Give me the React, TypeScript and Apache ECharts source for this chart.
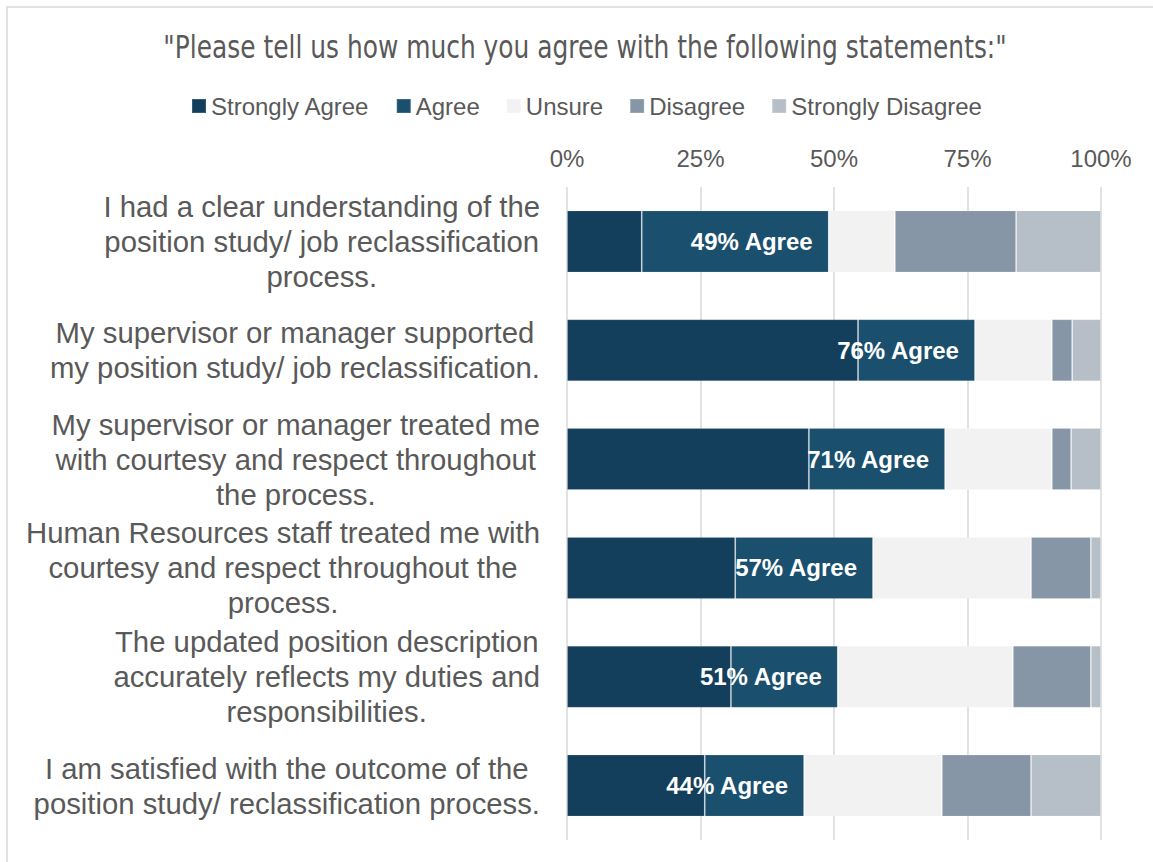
import React, { useEffect, useRef } from "react";
import * as echarts from "echarts";

const categories = [
  "I had a clear understanding of the\nposition study/ job reclassification\nprocess.",
  "My supervisor or manager supported\nmy position study/ job reclassification.",
  "My supervisor or manager treated me\nwith courtesy and respect throughout\nthe process.",
  "Human Resources staff treated me with\ncourtesy and respect throughout the\nprocess.",
  "The updated position description\naccurately reflects my duties and\nresponsibilities.",
  "I am satisfied with the outcome of the\nposition study/ reclassification process.",
];

const stronglyAgree = [14, 54.5, 45.3, 31.5, 30.7, 25.8];
const agree = [35, 21.9, 25.5, 25.8, 20, 18.6];
const unsure = [12.4, 14.4, 20, 29.6, 32.8, 25.8];
const disagree = [22.7, 3.8, 3.6, 11.2, 14.6, 16.7];
const stronglyDisagree = [15.9, 5.4, 5.6, 1.9, 1.9, 13.1];
const agreeTotals = [49, 76, 71, 57, 51, 44];

const xTicks = [0, 25, 50, 75, 100];

const titleText = "\"Please tell us how much you agree with the following statements:\"";
const seriesNames = ["Strongly Agree", "Agree", "Unsure", "Disagree", "Strongly Disagree"];
const seriesColors = ["#143F5C", "#1A4F6D", "#F2F2F2", "#8696A6", "#B6BEC7"];

const FONT = "Liberation Sans, Arial, Helvetica, sans-serif";
const TEXT_COLOR = "#595959";

export default function App() {
  const ref = useRef<HTMLDivElement>(null);

  useEffect(() => {
    if (!ref.current) return;
    const chart = echarts.init(ref.current, null, { renderer: "svg" });
    const dataSets = [stronglyAgree, agree, unsure, disagree, stronglyDisagree];
    const series = dataSets.map((d, i) => ({
      name: seriesNames[i],
      type: "bar",
      stack: "total",
      barWidth: 62,
      data: d,
      itemStyle: {
        color: seriesColors[i],
        borderColor: "rgba(255,255,255,0.15)",
        borderWidth: 1,
      },
      label:
        i === 1
          ? {
              show: true,
              position: "insideRight",
              distance: 16,
              color: "#FFFFFF",
              fontFamily: FONT,
              fontWeight: "bold",
              fontSize: 24,
              formatter: (p: any) => `${agreeTotals[p.dataIndex]}% Agree`,
            }
          : { show: false },
      emphasis: { disabled: true },
    }));

    chart.setOption({
      animation: false,
      backgroundColor: "#FFFFFF",
      legend: {
        left: 191,
        top: 94,
        padding: 0,
        itemWidth: 14,
        itemHeight: 14,
        itemGap: 26,
        icon: "rect",
        textStyle: { fontFamily: FONT, fontSize: 24, color: TEXT_COLOR },
        data: seriesNames,
      },
      graphic: [
        {
          type: "text",
          x: 585,
          y: 47,
          scaleX: 0.865,
          silent: true,
          style: {
            text: titleText,
            textAlign: "center",
            textVerticalAlign: "middle",
            fontFamily: "\"DejaVu Sans Condensed\", \"DejaVu Sans\", sans-serif",
            fontSize: 32,
            fill: TEXT_COLOR,
          },
        },
        {
          type: "rect",
          shape: { x: 7, y: 7, width: 1200, height: 900 },
          style: { fill: "none", stroke: "#D9D9D9", lineWidth: 1.5 },
          silent: true,
          z: 100,
        },
      ],
      grid: { left: 567, right: 52, top: 187, bottom: 22, containLabel: false },
      xAxis: {
        type: "value",
        position: "top",
        min: xTicks[0],
        max: xTicks[xTicks.length - 1],
        interval: 25,
        axisLine: { show: false },
        axisTick: { show: false },
        splitLine: { show: true, lineStyle: { color: "#D9D9D9", width: 1.5 } },
        axisLabel: {
          margin: 17,
          fontFamily: FONT,
          fontSize: 24,
          color: TEXT_COLOR,
          formatter: "{value}%",
        },
      },
      yAxis: {
        type: "category",
        inverse: true,
        data: categories,
        axisLine: { show: false },
        axisTick: { show: false },
        axisLabel: {
          margin: 27,
          align: "right",
          formatter: (v: string) =>
            v
              .split("\n")
              .map((l) => `{c|${l}}`)
              .join("\n"),
          rich: {
            c: {
              align: "center",
              fontFamily: FONT,
              fontSize: 29.3,
              lineHeight: 35,
              color: TEXT_COLOR,
            },
          },
        },
      },
      series,
    });
    return () => chart.dispose();
  }, []);

  return (
    <div
      ref={ref}
      style={{ position: "fixed", left: 0, top: 0, width: 1153, height: 862 }}
    />
  );
}
